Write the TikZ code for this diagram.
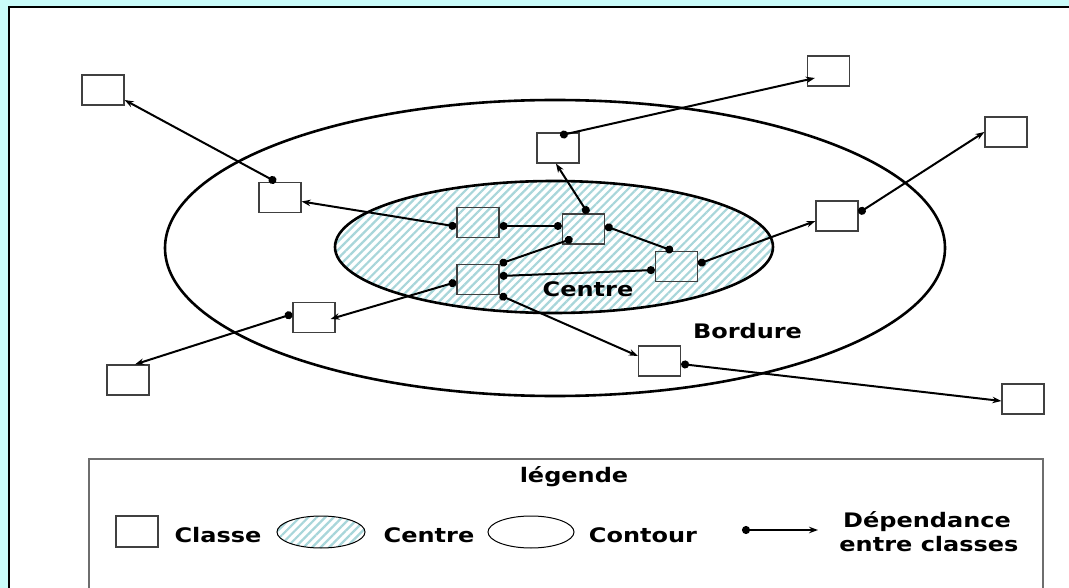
\documentclass[tikz,border=0pt]{standalone}
\usepackage{fontspec}
\usepackage{graphicx}
\setmainfont{DejaVu Sans}
\usetikzlibrary{arrows.meta,patterns.meta}

\definecolor{fond}{RGB}{202,252,250}
\definecolor{hachure}{RGB}{168,214,218}
\definecolor{bordlegende}{RGB}{110,110,110}

% texte un peu elargi
\newcommand{\etire}[1]{\scalebox{1.2}[1]{#1}}

\begin{document}
	\begin{tikzpicture}[
		% 1 unite = 1 pixel, axe y vers le bas
		x=1pt, y=-1pt,
		classe/.style={draw=black!75, line width=1.2pt, minimum width=42pt, minimum height=30pt, inner sep=0pt},
		dep/.style={line width=2pt, {Circle[length=8pt]}-{Stealth[length=9pt,width=6.5pt]}},
		lien/.style={line width=2pt, {Circle[length=8pt]}-{Circle[length=8pt]}},
		etiquette/.style={font=\bfseries\fontsize{20}{24}\selectfont, inner sep=0pt, anchor=base},
		hachures/.style={preaction={fill=white}, pattern={Lines[angle=45,distance=6pt,line width=2.2pt]}, pattern color=hachure},
		]
		\useasboundingbox (0,0) rectangle (1069,588);
		\fill[fond] (0,0) rectangle (1069,588);
		\clip (0,0) rectangle (1069,588);
		\draw[fill=white, line width=2pt] (9,7) rectangle (1090,600);

		% bordure et centre
		\draw[line width=2.6pt] (555,248) ellipse [x radius=390, y radius=148];
		\draw[hachures, line width=2.6pt] (554,247) ellipse [x radius=219, y radius=66];

		% classes
		\node[classe] (b1) at (103,90) {};
		\node[classe] (b2) at (280,197.5) {};
		\node[classe] (b3) at (558,148) {};
		\node[classe] (b4) at (828.5,71) {};
		\node[classe] (b5) at (1006,132) {};
		\node[classe] (b6) at (837,216) {};
		\node[classe] (b7) at (314,317.5) {};
		\node[classe] (b8) at (128,380) {};
		\node[classe] (b9) at (659.5,361) {};
		\node[classe] (b10) at (1023,399) {};
		\node[classe] (c1) at (478,222.5) {};
		\node[classe] (c2) at (583.5,229) {};
		\node[classe] (c3) at (478,279.5) {};
		\node[classe] (c4) at (676.5,266.5) {};

		% dependances
		\draw[dep] ([xshift=-4pt]b2.north) -- ([yshift=-10pt]b1.east);
		\draw[dep] ([yshift=-4pt]c1.west) -- ([yshift=-4pt]b2.east);
		\draw[lien] ([yshift=-3.5pt]c1.east) -- ([yshift=3pt]c2.west);
		\draw[dep] ([xshift=4.5pt]c2.north) -- ([xshift=-2pt]b3.south);
		\draw[dep] ([xshift=2pt,yshift=-3pt]b3.north) -- ([xshift=8pt,yshift=-7pt]b4.west);
		\draw[lien] ([yshift=3pt]c2.east) -- ([xshift=-3.5pt]c4.north);
		\draw[dep] ([yshift=2.5pt]c4.east) -- ([yshift=-5pt]b6.west);
		\draw[dep] ([yshift=3pt]b6.east) -- (b5.west);
		\draw[lien] (c3.north east) -- ([xshift=-11pt,yshift=6pt]c2.south);
		\draw[lien] ([yshift=3.5pt]c3.east) -- ([yshift=-3.5pt]c4.west);
		\draw[dep] ([yshift=-2.5pt]c3.west) -- ([xshift=-5pt,yshift=-1.5pt]b7.east);
		\draw[dep] ([yshift=3.5pt]b7.west) -- ([xshift=7pt]b8.north);
		\draw[dep] (c3.south east) -- ([yshift=5pt]b9.west);
		\draw[dep] ([yshift=-3pt]b9.east) -- ([yshift=-2pt]b10.west);

		\node[etiquette] (centre) at (588,297) {\etire{Centre}};
		\node[etiquette] (bordure) at (747.5,338) {\etire{Bordure}};

		% legende
		\draw[draw=bordlegende, line width=1.2pt] (89,459) rectangle (1043,600);
		\node[etiquette] (titre) at (574,482) {\etire{légende}};
		\node[classe, minimum height=31pt] (lclasse) at (137,531.5) {};
		\node[etiquette] (lcl) at (218,542) {\etire{Classe}};
		\draw[hachures, line width=1pt] (321,532) ellipse [x radius=44, y radius=16];
		\node[etiquette] (lce) at (429,542) {\etire{Centre}};
		\draw[line width=1pt] (531,532) ellipse [x radius=43, y radius=16];
		\node[etiquette] (lco) at (643,542) {\etire{Contour}};
		\coordinate (ldeb) at (742,530);
		\coordinate (lfin) at (818,530);
		\draw[dep] (ldeb) -- (lfin);
		\node[etiquette] (ldep) at (927,527) {\etire{Dépendance}};
		\node[etiquette] (lentre) at (929,551) {\etire{entre classes}};
	\end{tikzpicture}
\end{document}
